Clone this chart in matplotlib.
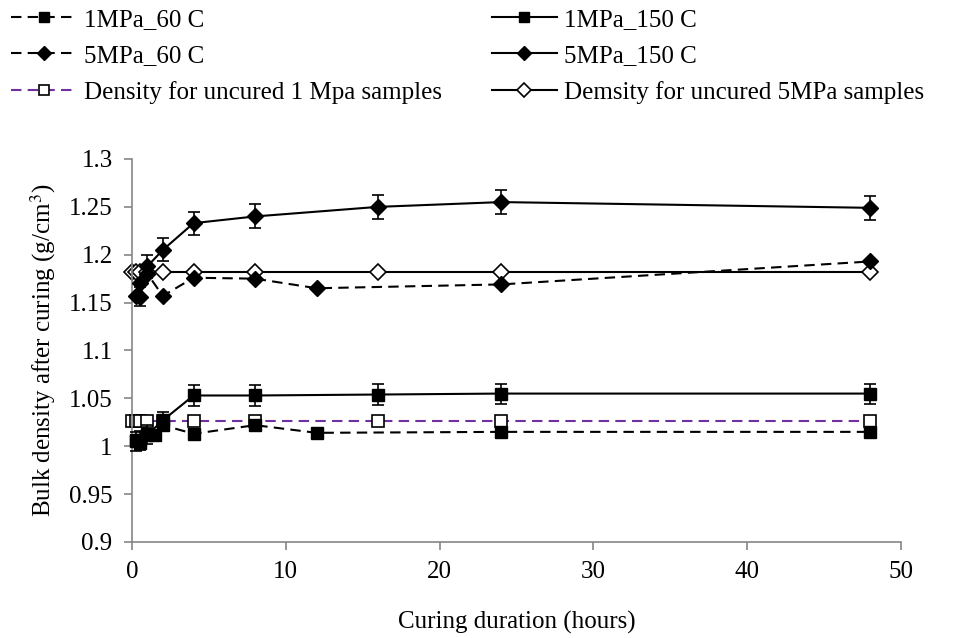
import matplotlib
matplotlib.use("Agg")
import matplotlib.pyplot as plt
from matplotlib.lines import Line2D

plt.rcParams['font.family'] = ['Liberation Serif', 'DejaVu Serif']
plt.rcParams['mathtext.fontset'] = 'stix'

# data
t_1mpa_60 = [0.25, 0.5, 1, 1.5, 2, 4, 8, 12, 24, 48]
d_1mpa_60 = [1.006, 1.003, 1.013, 1.012, 1.022, 1.013, 1.022, 1.014, 1.015, 1.015]

t_1mpa_150 = [0.25, 0.5, 1, 2, 4, 8, 16, 24, 48]
d_1mpa_150 = [1.005, 1.006, 1.012, 1.027, 1.053, 1.053, 1.054, 1.055, 1.055]
e_1mpa_150 = [0.01, 0.01, 0.01, 0.009, 0.0105, 0.0105, 0.0105, 0.0105, 0.0105]

t_5mpa_60 = [0.25, 0.5, 1, 2, 4, 8, 12, 24, 48]
d_5mpa_60 = [1.157, 1.170, 1.180, 1.157, 1.176, 1.175, 1.165, 1.169, 1.193]

t_5mpa_150 = [0.5, 1, 2, 4, 8, 16, 24, 48]
d_5mpa_150 = [1.156, 1.188, 1.205, 1.233, 1.240, 1.250, 1.255, 1.249]
e_5mpa_150 = [0.01, 0.012, 0.012, 0.012, 0.0125, 0.0125, 0.0125, 0.0125]

t_uncured = [0, 0.25, 0.5, 1, 2, 4, 8, 16, 24, 48]
d_uncured_1 = [1.026] * len(t_uncured)
d_uncured_5 = [1.182] * len(t_uncured)

labels = ['1MPa_60 C', '1MPa_150 C', '5MPa_60 C', '5MPa_150 C',
          'Density for uncured 1 Mpa samples', 'Demsity for uncured 5MPa samples']

fig = plt.figure(figsize=(9.57, 6.38), dpi=100)
ax = fig.add_axes([0.138, 0.1505, 0.8035, 0.6003])

purple = '#7030A0'
ls_dash = (0, (5, 3))
fs = 18

ax.plot(t_1mpa_60, d_1mpa_60, color='black', ls=ls_dash, lw=1.5, marker='s',
        ms=8, zorder=3)
ax.errorbar(t_1mpa_150, d_1mpa_150, yerr=e_1mpa_150, color='black', ls='-', lw=1.5,
            marker='s', ms=8, capsize=4, elinewidth=1.2, capthick=1.2, zorder=3)
ax.plot(t_5mpa_60, d_5mpa_60, color='black', ls=ls_dash, lw=1.5, marker='D',
        ms=8, zorder=3)
ax.errorbar(t_5mpa_150, d_5mpa_150, yerr=e_5mpa_150, color='black', ls='-', lw=1.5,
            marker='D', ms=8, capsize=4, elinewidth=1.2, capthick=1.2, zorder=3)
ax.plot(t_uncured, d_uncured_1, color=purple, ls=ls_dash, lw=1.5, marker='s', ms=8,
        mfc='white', mec='black', mew=1.2, zorder=2)
ax.plot(t_uncured, d_uncured_5, color='black', ls='-', lw=1.5, marker='D', ms=8,
        mfc='white', mec='black', mew=1.2, zorder=2)

ax.set_xlim(0, 50)
ax.set_ylim(0.9, 1.3)
ax.set_xticks(range(0, 51, 10))
ax.set_yticks([0.9, 0.95, 1.0, 1.05, 1.1, 1.15, 1.2, 1.25, 1.3])
ax.set_yticklabels(['0.9', '0.95', '1', '1.05', '1.1', '1.15', '1.2', '1.25', '1.3'])
for s in ['top', 'right']:
    ax.spines[s].set_visible(False)
for s in ['left', 'bottom']:
    ax.spines[s].set_color('#868686')
    ax.spines[s].set_linewidth(1.2)
ax.tick_params(direction='out', length=6, width=1.2, color='#868686',
               labelsize=fs, pad=8)
for ln in ax.lines:
    ln.set_clip_on(False)

ax.set_xlabel('Curing duration (hours)', fontsize=fs, labelpad=20)
ax.set_ylabel('Bulk density after curing (g/cm$^3$)', fontsize=fs, labelpad=8)

# legend: rows are (60 C, 150 C) pairs, then the uncured references
h = [
    Line2D([], [], color='black', ls=ls_dash, lw=1.5, marker='s', ms=7),
    Line2D([], [], color='black', ls='-', lw=1.5, marker='s', ms=7),
    Line2D([], [], color='black', ls=ls_dash, lw=1.5, marker='D', ms=7),
    Line2D([], [], color='black', ls='-', lw=1.5, marker='D', ms=7),
    Line2D([], [], color=purple, ls=ls_dash, lw=1.5, marker='s', ms=7,
           mfc='white', mec='black', mew=1.2),
    Line2D([], [], color='black', ls='-', lw=1.5, marker='D', ms=7,
           mfc='white', mec='black', mew=1.2),
]
order = [0, 2, 4, 1, 3, 5]
fig.legend([h[i] for i in order], [labels[i] for i in order],
           loc='upper left', bbox_to_anchor=(-0.012, 1.022), ncol=2, frameon=False,
           fontsize=fs, handlelength=2.6, handletextpad=0.3, columnspacing=2.0,
           labelspacing=0.55)

fig.savefig('out.png', dpi=100)
